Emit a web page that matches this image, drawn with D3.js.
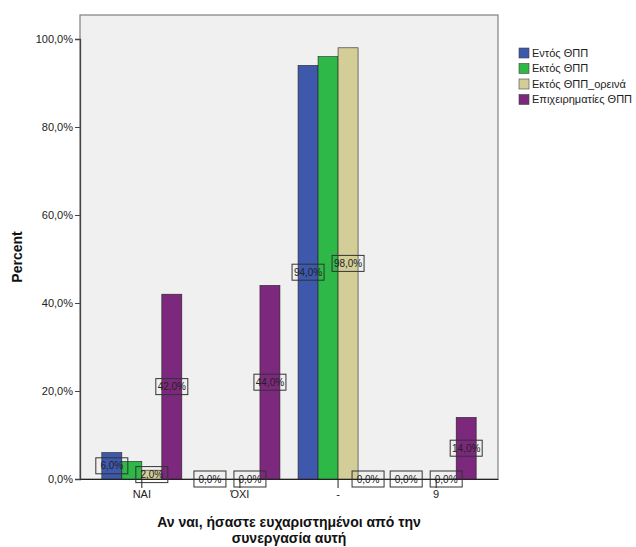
<!DOCTYPE html>
<html><head><meta charset="utf-8">
<script src="https://cdn.jsdelivr.net/npm/d3@7"></script>
<style>body{margin:0;background:#fff}svg{display:block;font-family:"Liberation Sans",Arial,sans-serif}</style>
</head><body><svg id="c" width="636" height="547"></svg>
<script>
const categories = ["NAI", "ΌΧΙ", "-", "9"];
const seriesNames = ["Εντός ΘΠΠ", "Εκτός ΘΠΠ", "Εκτός ΘΠΠ_ορεινά", "Επιχειρηματίες ΘΠΠ"];
const entos = [6.0, 0.0, 94.0, 0.0];
const ektos = [4.0, 0.0, 96.0, 0.0];
const ektosOreina = [2.0, 0.0, 98.0, 0.0];
const epixeirimaties = [42.0, 44.0, 0.0, 14.0];
const yTicks = [0, 20, 40, 60, 80, 100];
const colors = ["#3E58AC", "#2EB848", "#D3CE97", "#7C287D"];
const xTitle = ["Αν ναι, ήσαστε ευχαριστημένοι από την", "συνεργασία αυτή"];
const yTitle = "Percent";

const seriesValues = [entos, ektos, ektosOreina, epixeirimaties];
const loc = d3.formatLocale({decimal: ",", thousands: ".", grouping: [3], currency: ["", "€"]});
const fmt = v => loc.format(".1f")(v) + "%";

const svg = d3.select("#c");
const L = 80, R = 498, T = 15, B = 479;
const x = d3.scaleBand().domain(categories).range([L, R]).paddingInner(0).paddingOuter(0.13);
const xs = d3.scaleBand().domain(d3.range(seriesNames.length)).range([0, 80]);
const y = d3.scaleLinear().domain([0, 100]).range([B, 39]);
const y0 = y(0);

// plot background
svg.append("rect").attr("x", L).attr("y", T).attr("width", R - L).attr("height", B - T)
  .attr("fill", "#F0F0F0").attr("stroke", "#808080").attr("stroke-width", 1.2);

// bars
categories.forEach((c, ci) => {
  seriesValues.forEach((vals, si) => {
    const v = vals[ci];
    if (v <= 0) return;
    const bx = x(c) + x.bandwidth() / 2 - 40 + xs(si);
    svg.append("rect").attr("x", bx).attr("y", y(v)).attr("width", xs.bandwidth()).attr("height", y0 - y(v))
      .attr("fill", colors[si]).attr("stroke", "#222").attr("stroke-width", 0.6);
  });
});

// axes
const yAxis = svg.append("g").attr("transform", `translate(${L},0)`)
  .call(d3.axisLeft(y).tickValues(yTicks).tickFormat(fmt).tickSize(5).tickPadding(2));
yAxis.select(".domain").attr("stroke", "#444").attr("stroke-width", 1.3);
yAxis.selectAll(".tick line").attr("stroke", "#444");
yAxis.selectAll("text").attr("font-size", 11).attr("fill", "#222").attr("font-family", "Liberation Sans, Arial");

const xAxis = svg.append("g").attr("transform", `translate(0,${y0})`)
  .call(d3.axisBottom(x).tickSize(9).tickPadding(2).tickSizeOuter(0));
xAxis.select(".domain").attr("stroke", "#222").attr("stroke-width", 1.2);
xAxis.selectAll(".tick line").attr("stroke", "#222");
xAxis.selectAll("text").attr("font-size", 11).attr("fill", "#222").attr("font-family", "Liberation Sans, Arial");

// data labels with collision hiding
const boxes = [];
const lblG = svg.append("g");
categories.forEach((c, ci) => {
  seriesValues.forEach((vals, si) => {
    const v = vals[ci];
    const cx = x(c) + x.bandwidth() / 2 - 40 + xs(si) + xs.bandwidth() / 2;
    const cy = y(v / 2);
    const w = 32, h = 16;
    const b = {x0: cx - w / 2, x1: cx + w / 2, y0: cy - h / 2, y1: cy + h / 2};
    if (boxes.some(o => b.x0 < o.x1 && b.x1 > o.x0 && b.y0 < o.y1 && b.y1 > o.y0)) return;
    boxes.push(b);
    lblG.append("rect").attr("x", b.x0).attr("y", b.y0).attr("width", w).attr("height", h)
      .attr("fill", "none").attr("stroke", "#333").attr("stroke-width", 1);
    lblG.append("text").attr("x", cx).attr("y", cy).attr("dy", "0.35em").attr("text-anchor", "middle")
      .attr("font-size", 10).attr("fill", "#222").text(fmt(v));
  });
});

// legend
const lg = svg.append("g");
seriesNames.forEach((n, i) => {
  const ly = 53 + i * 15.5;
  lg.append("rect").attr("x", 519).attr("y", ly - 5).attr("width", 10).attr("height", 10)
    .attr("fill", colors[i]).attr("stroke", "#444").attr("stroke-width", 0.6);
  lg.append("text").attr("x", 532).attr("y", ly).attr("dy", "0.35em").attr("font-size", 11)
    .attr("fill", "#222").text(n);
});

// titles
svg.append("text").attr("transform", `translate(22,${(T + B) / 2 + 10}) rotate(-90)`)
  .attr("text-anchor", "middle").attr("font-size", 14).attr("font-weight", "bold").attr("fill", "#111").text(yTitle);
xTitle.forEach((t, i) => {
  svg.append("text").attr("x", 289).attr("y", 527 + i * 16).attr("text-anchor", "middle")
    .attr("font-size", 14).attr("font-weight", "bold").attr("fill", "#111").text(t);
});
</script></body></html>
